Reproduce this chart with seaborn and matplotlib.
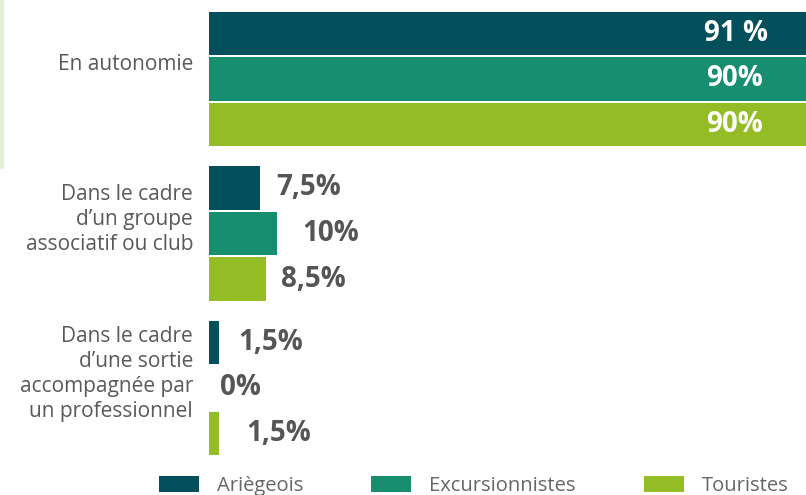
import matplotlib.pyplot as plt
import matplotlib.transforms as mtransforms
import numpy as np
import pandas as pd
import seaborn as sns

categories = ["En autonomie",
              "Dans le cadre\nd\u2019un groupe\nassociatif ou club",
              "Dans le cadre\nd\u2019une sortie\naccompagn\u00e9e par\nun professionnel"]
series = ["Ari\u00e8geois", "Excursionnistes", "Touristes"]
ariegeois = [91, 7.5, 1.5]
excursionnistes = [90, 10, 0]
touristes = [90, 8.5, 1.5]
value_labels = {
    "Ari\u00e8geois": ["91 %", "7,5%", "1,5%"],
    "Excursionnistes": ["90%", "10%", "0%"],
    "Touristes": ["90%", "8,5%", "1,5%"],
}
# gap (px) between bar end and its label, as placed in the original
label_gaps = {
    "Ari\u00e8geois": [-55, 17, 19],
    "Excursionnistes": [-54, 26, 11],
    "Touristes": [-54, 15, 27],
}
colors = ["#03505c", "#168e6f", "#94bd25"]

df = pd.DataFrame({
    "cat": categories * 3,
    "serie": np.repeat(series, 3),
    "val": ariegeois + excursionnistes + touristes,
})

sns.set_style("white")
plt.rcParams["font.family"] = ["Open Sans", "DejaVu Sans"]

fig = plt.figure(figsize=(8.06, 4.95), dpi=100)
ax = fig.add_axes([209 / 806, 35 / 495, 597 / 806, 460 / 495])

sns.barplot(data=df, y="cat", x="val", hue="serie", orient="h",
            palette=colors, width=0.885, gap=0.045, ax=ax,
            edgecolor="none", saturation=1)

ax.set_xlim(0, 597 / 6.75)
ax.set_ylim(2.466, -0.511)
sns.despine(ax=ax, left=True, bottom=True)
ax.set_xlabel("")
ax.set_ylabel("")
ax.set_xticks([])
ax.tick_params(axis="y", length=0, pad=11.5)
ax.set_yticks(range(len(categories)))
ax.set_yticklabels(categories, fontsize=15, color="#595959",
                   linespacing=1.25, ha="right", va="center")
shift = mtransforms.ScaledTranslation(0, 14 / 100, fig.dpi_scale_trans)
for lab in ax.get_yticklabels():
    lab.set_transform(lab.get_transform() + shift)

# value labels
for cont, name in zip(ax.containers, series):
    for bar, txt, g in zip(cont, value_labels[name], label_gaps[name]):
        w = bar.get_width()
        yc = bar.get_y() + bar.get_height() / 2
        inside = w > 50
        ax.annotate(txt, (w, yc), xytext=(g, 0), textcoords="offset pixels",
                    ha="right" if inside else "left", va="center",
                    fontsize=20, fontweight="bold",
                    color="white" if inside else "#555555",
                    annotation_clip=False)

handles, labels = ax.get_legend_handles_labels()
fs = 14.5 * 100 / 72
ax.legend(handles, labels, loc="center left",
          bbox_to_anchor=(159 / 806, 1 - 486 / 495), bbox_transform=fig.transFigure,
          ncol=3, frameon=False, fontsize=14.5, labelcolor="#666666",
          handlelength=40 / fs, handleheight=16 / fs, handletextpad=18 / fs,
          columnspacing=68 / fs, borderpad=0, borderaxespad=0)

# pale strip on the left edge
fig.patches.append(plt.Rectangle((0, 1 - 168 / 495), 3 / 806, 168 / 495,
                                 transform=fig.transFigure, color="#e4eedb",
                                 zorder=0))

fig.savefig("out.png", dpi=100)
